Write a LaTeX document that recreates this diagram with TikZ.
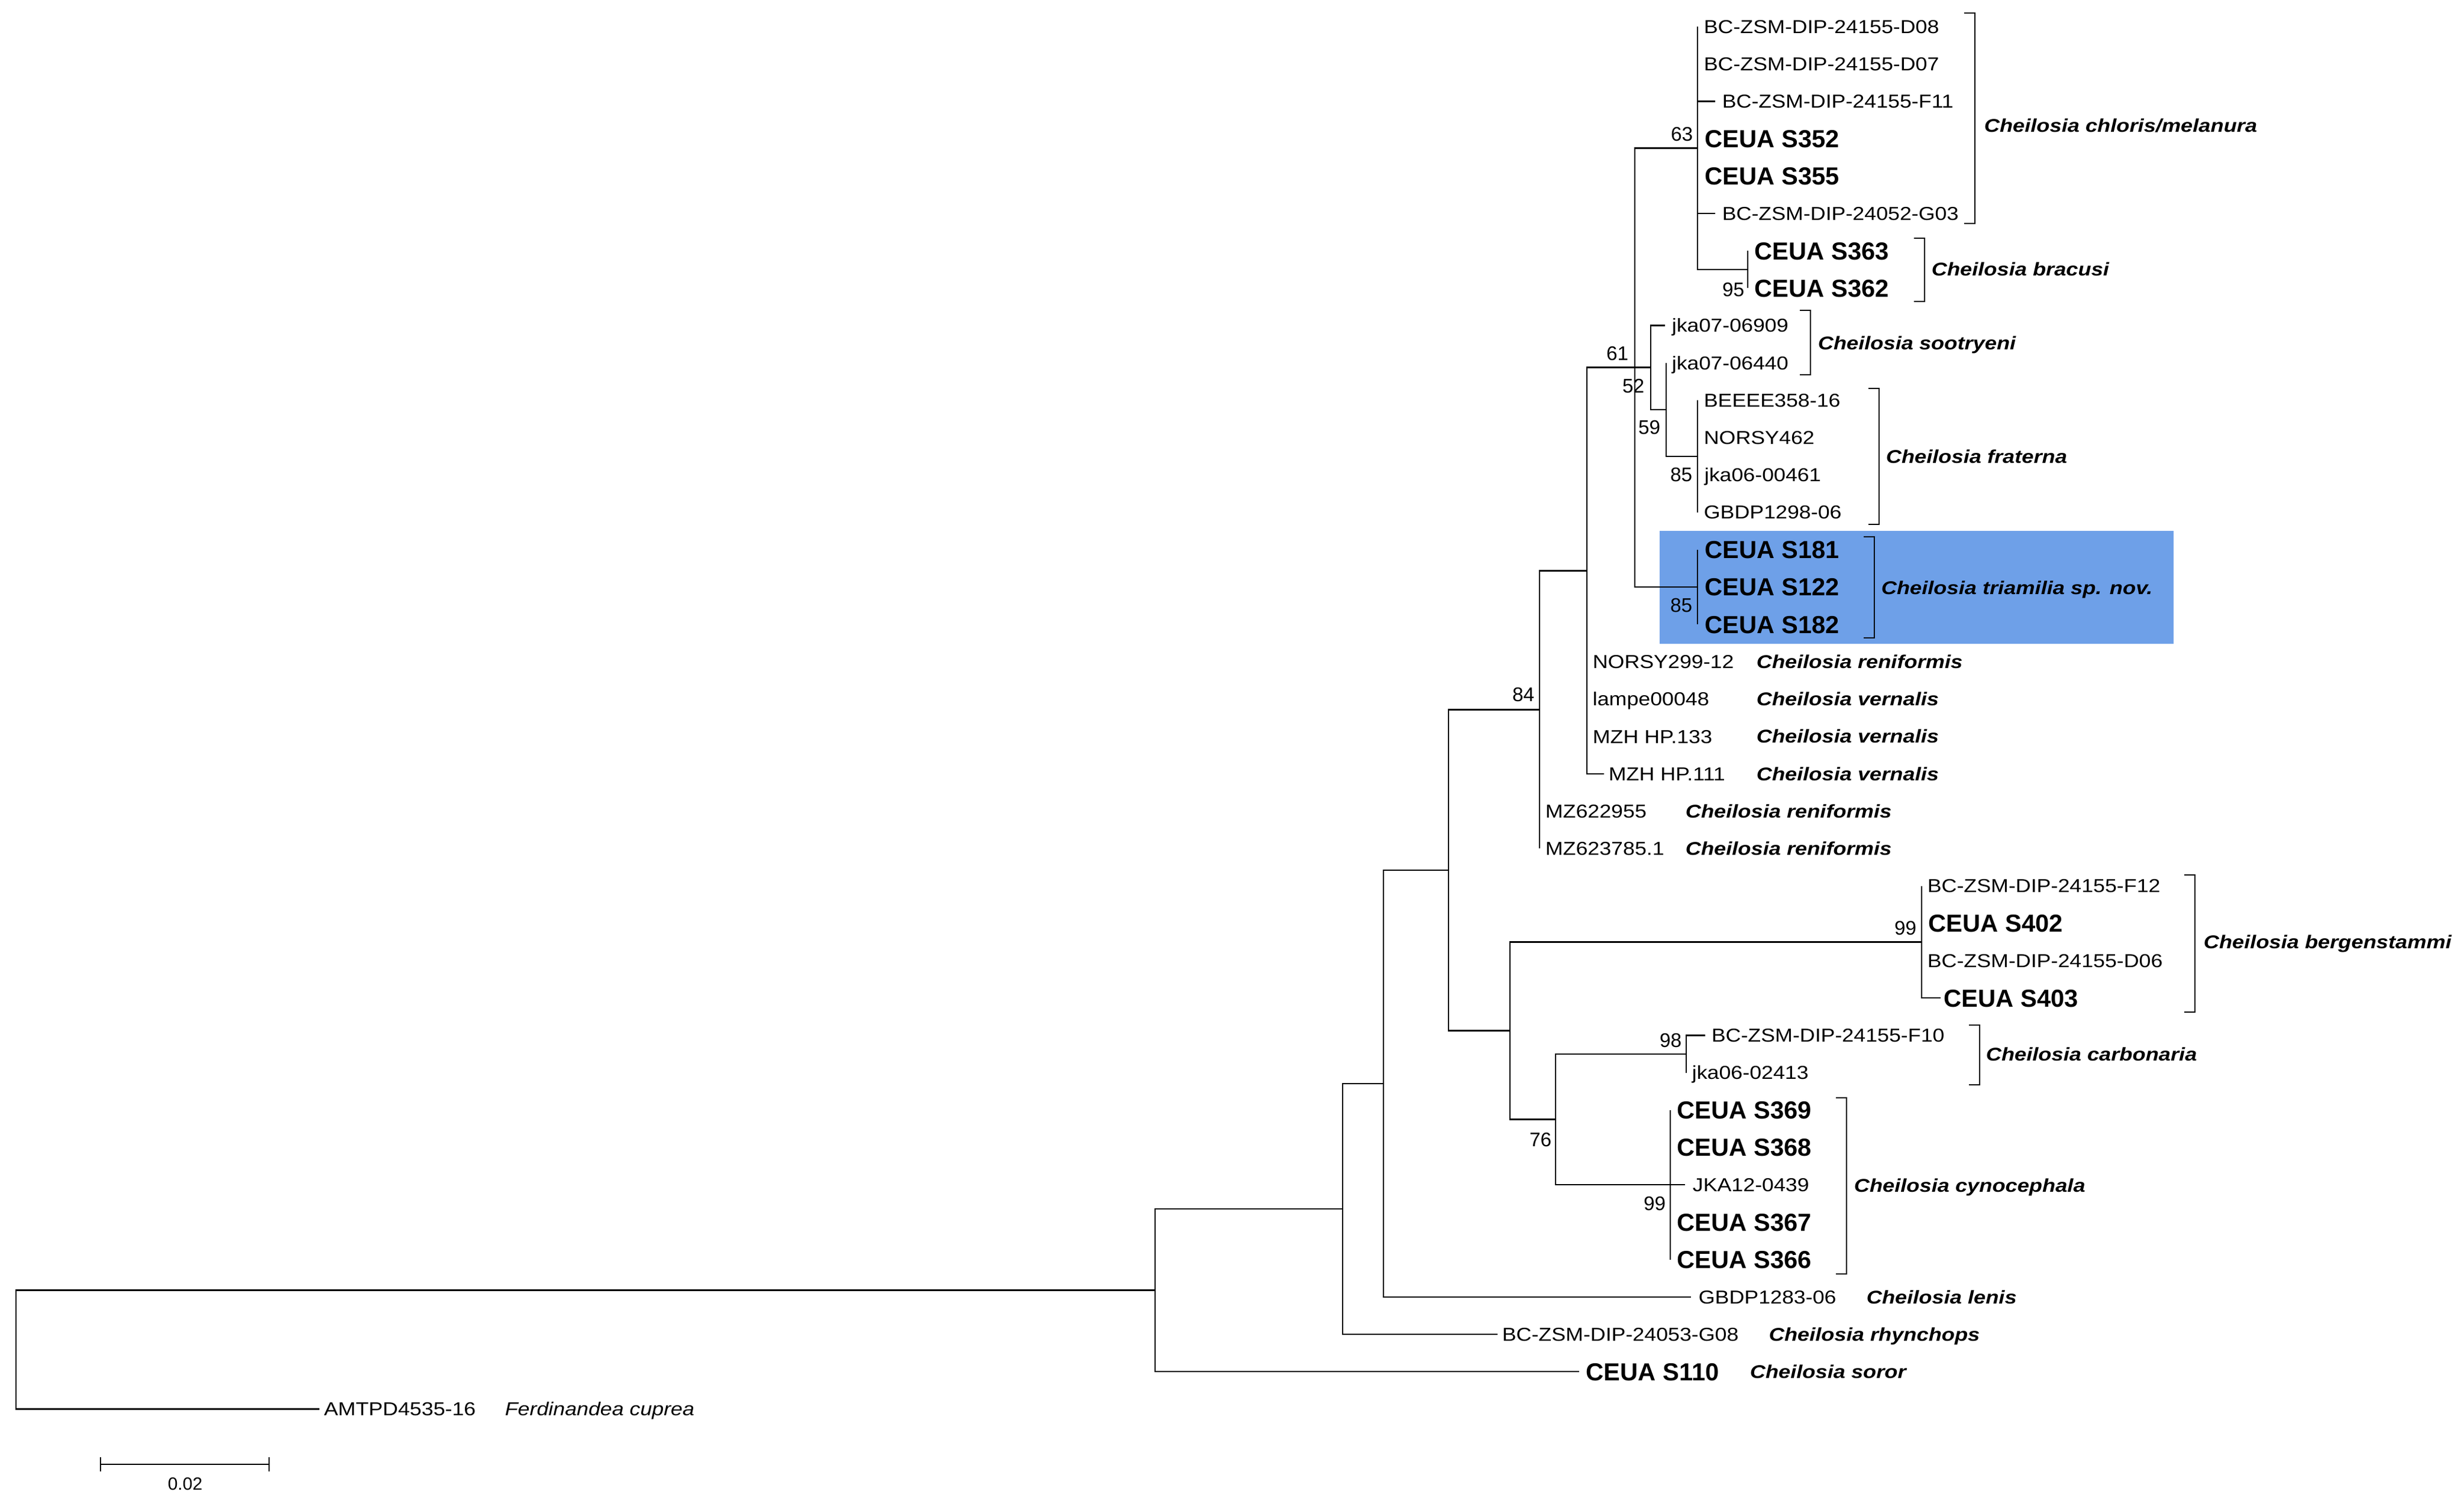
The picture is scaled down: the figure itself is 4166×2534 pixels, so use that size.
\documentclass[tikz,border=0pt]{standalone}
\usepackage{fontspec}
\setmainfont{Liberation Sans}
\newfontfamily\idfont[FakeStretch=1.13]{Liberation Sans}
\newfontfamily\spfont[FakeStretch=1.16]{Liberation Sans}
\definecolor{hilite}{RGB}{110,160,232}
\newcommand\brak[3]{\draw[brk] (#1-18,#2) -- (#1,#2) -- (#1,#3) -- (#1-18,#3);}
\begin{document}
\begin{tikzpicture}[x=0.24pt,y=-0.24pt,
  branch/.style={line width=0.6pt},
  brk/.style={line width=0.7pt},
  leaf/.style={anchor=west, inner sep=0pt, text height=5.44pt, text depth=0pt, font=\idfont\fontsize{7.6}{8}\selectfont},
  ceua/.style={anchor=west, inner sep=0pt, text height=7.16pt, text depth=0pt, font=\fontsize{10}{12}\selectfont\bfseries},
  sp/.style={anchor=west, inner sep=0pt, text height=5.37pt, text depth=0pt, font=\spfont\fontsize{7.5}{8}\selectfont\bfseries\itshape},
  spi/.style={anchor=west, inner sep=0pt, text height=5.44pt, text depth=0pt, font=\idfont\fontsize{7.6}{8}\selectfont\itshape},
  bs/.style={inner sep=0pt, text height=5.73pt, text depth=0pt, font=\fontsize{8}{9}\selectfont},
]
\useasboundingbox (0,0) rectangle (4166,2534);
\fill[white] (0,0) rectangle (4166,2534);
% highlight box
\fill[hilite] (2806,898) rectangle (3675,1089);

% internal nodes
\coordinate (R) at (27,2283);
\coordinate (A) at (1953,2182.6);
\coordinate (B) at (2270,2045);
\coordinate (C) at (2339,1832.9);
\coordinate (D) at (2449,1472);
\coordinate (E) at (2603,1200.4);
\coordinate (G) at (2683,965.35);
\coordinate (J) at (2764,621.7);
\coordinate (K) at (2791,621.7);
\coordinate (L) at (2817,692.8);
\coordinate (M) at (2870,250.4);
\coordinate (N) at (2955,455.8);
\coordinate (P) at (2870,771.8);
\coordinate (T) at (2870,993);
\coordinate (F) at (2553,1743.5);
\coordinate (Bg) at (3249,1593.4);
\coordinate (H) at (2630,1893.6);
\coordinate (Cb) at (2851,1783);
\coordinate (Cy) at (2824,2004.2);

% leaf tips
\coordinate (t1) at (2870,45.0);
\coordinate (t2) at (2870,108.2);
\coordinate (t3) at (2900,171.4);
\coordinate (t4) at (2870,234.6);
\coordinate (t5) at (2870,297.8);
\coordinate (t6) at (2900,361.0);
\coordinate (t7) at (2955,424.2);
\coordinate (t8) at (2955,487.4);
\coordinate (t9) at (2815,550.6);
\coordinate (t10) at (2817,613.8);
\coordinate (t11) at (2870,677.0);
\coordinate (t12) at (2870,740.2);
\coordinate (t13) at (2870,803.4);
\coordinate (t14) at (2870,866.6);
\coordinate (t15) at (2870,929.8);
\coordinate (t16) at (2870,993.0);
\coordinate (t17) at (2870,1056.2);
\coordinate (t18) at (2683,1119.4);
\coordinate (t19) at (2683,1182.6);
\coordinate (t20) at (2683,1245.8);
\coordinate (t21) at (2712,1309.0);
\coordinate (t22) at (2603,1372.2);
\coordinate (t23) at (2603,1435.4);
\coordinate (t24) at (3249,1498.6);
\coordinate (t25) at (3249,1561.8);
\coordinate (t26) at (3249,1625.0);
\coordinate (t27) at (3281,1688.2);
\coordinate (t28) at (2883,1751.4);
\coordinate (t29) at (2851,1814.6);
\coordinate (t30) at (2824,1877.8);
\coordinate (t31) at (2824,1941.0);
\coordinate (t32) at (2849,2004.2);
\coordinate (t33) at (2824,2067.4);
\coordinate (t34) at (2824,2130.6);
\coordinate (t35) at (2859,2193.8);
\coordinate (t36) at (2532,2257.0);
\coordinate (t37) at (2670,2320.2);
\coordinate (t38) at (540,2383.4);

% branches
\draw[branch] (R) |- (A);  \draw[branch] (R) |- (t38);
\draw[branch] (A) |- (B);  \draw[branch] (A) |- (t37);
\draw[branch] (B) |- (C);  \draw[branch] (B) |- (t36);
\draw[branch] (C) |- (D);  \draw[branch] (C) |- (t35);
\draw[branch] (D) |- (E);  \draw[branch] (D) |- (F);
\draw[branch] (E) |- (G);  \draw[branch] (E) |- (t22); \draw[branch] (E) |- (t23);
\draw[branch] (G) |- (J);
\foreach \i in {18,19,20,21} {\draw[branch] (G) |- (t\i);}
\draw[branch] (J) |- (M);  \draw[branch] (J) |- (K); \draw[branch] (J) |- (T);
\foreach \i in {1,...,6} {\draw[branch] (M) |- (t\i);}
\draw[branch] (M) |- (N);
\draw[branch] (N) |- (t7); \draw[branch] (N) |- (t8);
\draw[branch] (K) |- (t9);  \draw[branch] (K) |- (L);
\draw[branch] (L) |- (t10); \draw[branch] (L) |- (P);
\foreach \i in {11,...,14} {\draw[branch] (P) |- (t\i);}
\foreach \i in {15,16,17} {\draw[branch] (T) |- (t\i);}
\draw[branch] (F) |- (Bg); \draw[branch] (F) |- (H);
\foreach \i in {24,...,27} {\draw[branch] (Bg) |- (t\i);}
\draw[branch] (H) |- (Cb); \draw[branch] (H) |- (Cy);
\draw[branch] (Cb) |- (t28); \draw[branch] (Cb) |- (t29);
\foreach \i in {30,...,34} {\draw[branch] (Cy) |- (t\i);}

% leaf labels
\node[leaf] (n1) at (2880,45.0) {BC-ZSM-DIP-24155-D08};
\node[leaf] (n2) at (2880,108.2) {BC-ZSM-DIP-24155-D07};
\node[leaf] (n3) at (2911,171.4) {BC-ZSM-DIP-24155-F11};
\node[ceua] (n4) at (2882,234.6) {CEUA S352};
\node[ceua] (n5) at (2882,297.8) {CEUA S355};
\node[leaf] (n6) at (2911,361.0) {BC-ZSM-DIP-24052-G03};
\node[ceua] (n7) at (2966,424.2) {CEUA S363};
\node[ceua] (n8) at (2966,487.4) {CEUA S362};
\node[leaf] (n9) at (2826,550.6) {jka07-06909};
\node[leaf] (n10) at (2826,613.8) {jka07-06440};
\node[leaf] (n11) at (2880,677.0) {BEEEE358-16};
\node[leaf] (n12) at (2880,740.2) {NORSY462};
\node[leaf] (n13) at (2881,803.4) {jka06-00461};
\node[leaf] (n14) at (2880,866.6) {GBDP1298-06};
\node[ceua] (n15) at (2882,929.8) {CEUA S181};
\node[ceua] (n16) at (2882,993.0) {CEUA S122};
\node[ceua] (n17) at (2882,1056.2) {CEUA S182};
\node[leaf] (n18) at (2692,1119.4) {NORSY299-12};
\node[leaf] (n19) at (2692,1182.6) {lampe00048};
\node[leaf] (n20) at (2692,1245.8) {MZH HP.133};
\node[leaf] (n21) at (2719,1309.0) {MZH HP.111};
\node[leaf] (n22) at (2612,1372.2) {MZ622955};
\node[leaf] (n23) at (2612,1435.4) {MZ623785.1};
\node[leaf] (n24) at (3258,1498.6) {BC-ZSM-DIP-24155-F12};
\node[ceua] (n25) at (3260,1561.8) {CEUA S402};
\node[leaf] (n26) at (3258,1625.0) {BC-ZSM-DIP-24155-D06};
\node[ceua] (n27) at (3286,1688.2) {CEUA S403};
\node[leaf] (n28) at (2893,1751.4) {BC-ZSM-DIP-24155-F10};
\node[leaf] (n29) at (2860,1814.6) {jka06-02413};
\node[ceua] (n30) at (2835,1877.8) {CEUA S369};
\node[ceua] (n31) at (2835,1941.0) {CEUA S368};
\node[leaf] (n32) at (2861,2004.2) {JKA12-0439};
\node[ceua] (n33) at (2835,2067.4) {CEUA S367};
\node[ceua] (n34) at (2835,2130.6) {CEUA S366};
\node[leaf] (n35) at (2871,2193.8) {GBDP1283-06};
\node[leaf] (n36) at (2539,2257.0) {BC-ZSM-DIP-24053-G08};
\node[ceua] (n37) at (2681,2320.2) {CEUA S110};
\node[leaf] (n38) at (547,2383.4) {AMTPD4535-16};

% species labels next to single leaves
\node[sp] (s18) at (2969,1119.4) {Cheilosia reniformis};
\node[sp] (s19) at (2969,1182.6) {Cheilosia vernalis};
\node[sp] (s20) at (2969,1245.8) {Cheilosia vernalis};
\node[sp] (s21) at (2969,1309.0) {Cheilosia vernalis};
\node[sp] (s22) at (2849,1372.2) {Cheilosia reniformis};
\node[sp] (s23) at (2849,1435.4) {Cheilosia reniformis};
\node[sp] (s35) at (3155,2193.8) {Cheilosia lenis};
\node[sp] (s36) at (2990,2257.0) {Cheilosia rhynchops};
\node[sp] (s37) at (2958,2320.2) {Cheilosia soror};
\node[spi] (s38) at (853,2383.4) {Ferdinandea cuprea};

% brackets and clade labels
\brak{3339}{22}{378}
\brak{3254}{403}{510}
\brak{3061}{525}{634}
\brak{3177}{657}{887}
\brak{3169}{908}{1079}
\brak{3711}{1480}{1712}
\brak{3347}{1734}{1835}
\brak{3122}{1857}{2155}
\node[sp] (cchl) at (3354,212) {Cheilosia chloris/melanura};
\node[sp] (cbra) at (3265,455) {Cheilosia bracusi};
\node[sp] (csoo) at (3073,580) {Cheilosia sootryeni};
\node[sp] (cfra) at (3188,772) {Cheilosia fraterna};
\node[sp] (ctri) at (3180,994) {Cheilosia triamilia sp. nov.};
\node[sp] (cber) at (3725,1593) {Cheilosia bergenstammi};
\node[sp] (ccar) at (3357,1783) {Cheilosia carbonaria};
\node[sp] (ccyn) at (3134,2005) {Cheilosia cynocephala};

% bootstrap values
\node[bs, anchor=south east] (b63) at (2863,239) {63};
\node[bs, anchor=north east] (b95) at (2950,477) {95};
\node[bs, anchor=south east] (b61) at (2754,610) {61};
\node[bs, anchor=north east] (b52) at (2781,640) {52};
\node[bs, anchor=north east] (b59) at (2808,710) {59};
\node[bs, anchor=north east] (b85a) at (2862,790) {85};
\node[bs, anchor=north east] (b85b) at (2862,1011) {85};
\node[bs, anchor=south east] (b84) at (2595,1187) {84};
\node[bs, anchor=south east] (b99a) at (3241,1582) {99};
\node[bs, anchor=south east] (b98) at (2844,1772) {98};
\node[bs, anchor=north east] (b76) at (2624,1915) {76};
\node[bs, anchor=north east] (b99b) at (2817,2023) {99};

% scale bar
\coordinate (sb1) at (170,2477);
\coordinate (sb2) at (455,2477);
\coordinate (sb1t) at (170,2465);
\coordinate (sb1b) at (170,2489);
\coordinate (sb2t) at (455,2465);
\coordinate (sb2b) at (455,2489);
\draw[branch] (sb1) -- (sb2);
\draw[branch] (sb1t) -- (sb1b);
\draw[branch] (sb2t) -- (sb2b);
\node[inner sep=0pt, font=\fontsize{7.2}{8}\selectfont] (sbl) at (313,2510) {0.02};
\end{tikzpicture}
\end{document}
